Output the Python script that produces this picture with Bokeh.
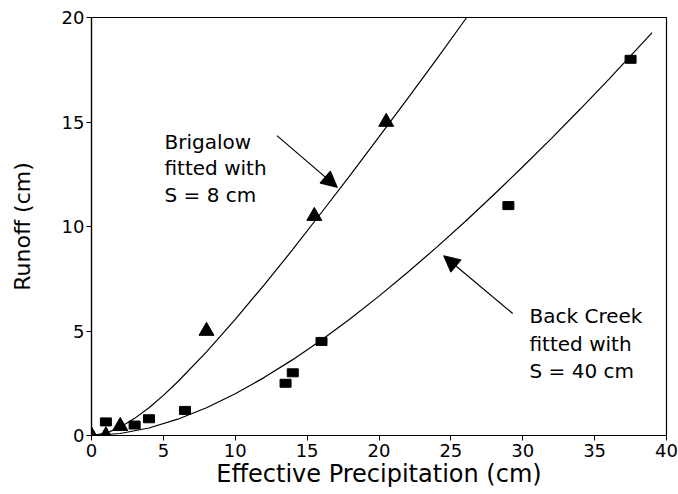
from bokeh.plotting import figure
from bokeh.models import Range1d, FixedTicker, Arrow, NormalHead, Label
from bokeh.embed import file_html
from bokeh.resources import INLINE

# Observed data
brig_p = [0, 1.0, 2.0, 8.0, 15.5, 20.5]
brig_q = [0, 0.0, 0.45, 5.0, 10.5, 15.0]
back_p = [1.0, 3.0, 4.0, 6.5, 13.5, 14.0, 16.0, 29.0, 37.5]
back_q = [0.65, 0.5, 0.8, 1.2, 2.5, 3.0, 4.5, 11.0, 18.0]

# Fitted curves
brig_fit_p = [0, 1, 2, 3, 4, 5, 6, 8, 10, 12, 14, 16, 18, 20, 22, 24, 26.1]
brig_fit_q = [0, 0.11, 0.4, 0.82, 1.33, 1.92, 2.57, 4.0, 5.56, 7.2, 8.9,
              10.67, 12.46, 14.29, 16.13, 18.0, 20.0]
back_fit_p = [0, 2, 4, 6, 8, 10, 12, 14, 16, 18, 20, 22, 24, 26, 28, 30,
              32, 34, 36, 39]
back_fit_q = [0, 0.095, 0.36, 0.78, 1.33, 2.0, 2.77, 3.63, 4.57, 5.59, 6.67,
              7.81, 9.0, 10.24, 11.53, 12.86, 14.22, 15.62, 17.05, 19.28]

x_ticks = [0, 5, 10, 15, 20, 25, 30, 35, 40]
y_ticks = [0, 5, 10, 15, 20]

FONT = "DejaVu Sans"

p = figure(width=678, height=494, output_backend="svg", toolbar_location=None,
           x_range=Range1d(0, 40), y_range=Range1d(0, 20),
           min_border_left=91, min_border_right=12, min_border_top=17,
           min_border_bottom=59)
p.grid.visible = False
p.outline_line_color = "black"
p.outline_line_width = 1.2
p.background_fill_color = "white"
p.border_fill_color = "white"

for ax in (p.xaxis[0], p.yaxis[0]):
    ax.axis_line_color = "black"
    ax.axis_line_width = 1.2
    ax.major_tick_line_color = "black"
    ax.major_tick_in = 0
    ax.major_tick_out = 5
    ax.minor_tick_line_color = None
    ax.major_label_text_font = FONT
    ax.major_label_text_font_size = "18px"
    ax.major_label_text_color = "black"
    ax.axis_label_text_font = FONT
    ax.axis_label_text_font_style = "normal"
    ax.axis_label_text_color = "black"

p.xaxis[0].ticker = FixedTicker(ticks=x_ticks)
p.yaxis[0].ticker = FixedTicker(ticks=y_ticks)
p.xaxis[0].axis_label = "Effective Precipitation (cm)"
p.yaxis[0].axis_label = "Runoff (cm)"
p.xaxis[0].axis_label_text_font_size = "24px"
p.yaxis[0].axis_label_text_font_size = "22px"
p.xaxis[0].major_label_standoff = 3
p.yaxis[0].major_label_standoff = 2
p.xaxis[0].axis_label_standoff = 0
p.yaxis[0].axis_label_standoff = 24

p.line(brig_fit_p, brig_fit_q, line_color="black", line_width=1.2)
p.line(back_fit_p, back_fit_q, line_color="black", line_width=1.2)

p.scatter(brig_p, brig_q, marker="triangle", size=15, fill_color="black",
          line_color="black")
p.rect(back_p, back_q, width=11, height=8, width_units="screen",
       height_units="screen", fill_color="black", line_color="black")

p.add_layout(Arrow(x_start=12.9, y_start=14.35, x_end=17.1, y_end=11.87,
                   line_color="black", line_width=1.2,
                   end=NormalHead(size=16, fill_color="black",
                                  line_color="black")))
p.add_layout(Arrow(x_start=29.3, y_start=5.84, x_end=24.5, y_end=8.6,
                   line_color="black", line_width=1.2,
                   end=NormalHead(size=16, fill_color="black",
                                  line_color="black")))

brig_lines = ["Brigalow", "fitted with", "S = 8  cm"]
brig_y = [14.03, 12.79, 11.49]
back_lines = ["Back Creek", "fitted with", "S = 40 cm"]
back_y = [5.7, 4.36, 3.07]
for t, y in zip(brig_lines, brig_y):
    p.add_layout(Label(x=5.08, y=y, text=t, text_font=FONT,
                       text_font_size="20px", text_color="black",
                       text_baseline="alphabetic"))
for t, y in zip(back_lines, back_y):
    p.add_layout(Label(x=30.47, y=y, text=t, text_font=FONT,
                       text_font_size="20px", text_color="black",
                       text_baseline="alphabetic"))

open("out.html", "w").write(file_html(p, INLINE))
